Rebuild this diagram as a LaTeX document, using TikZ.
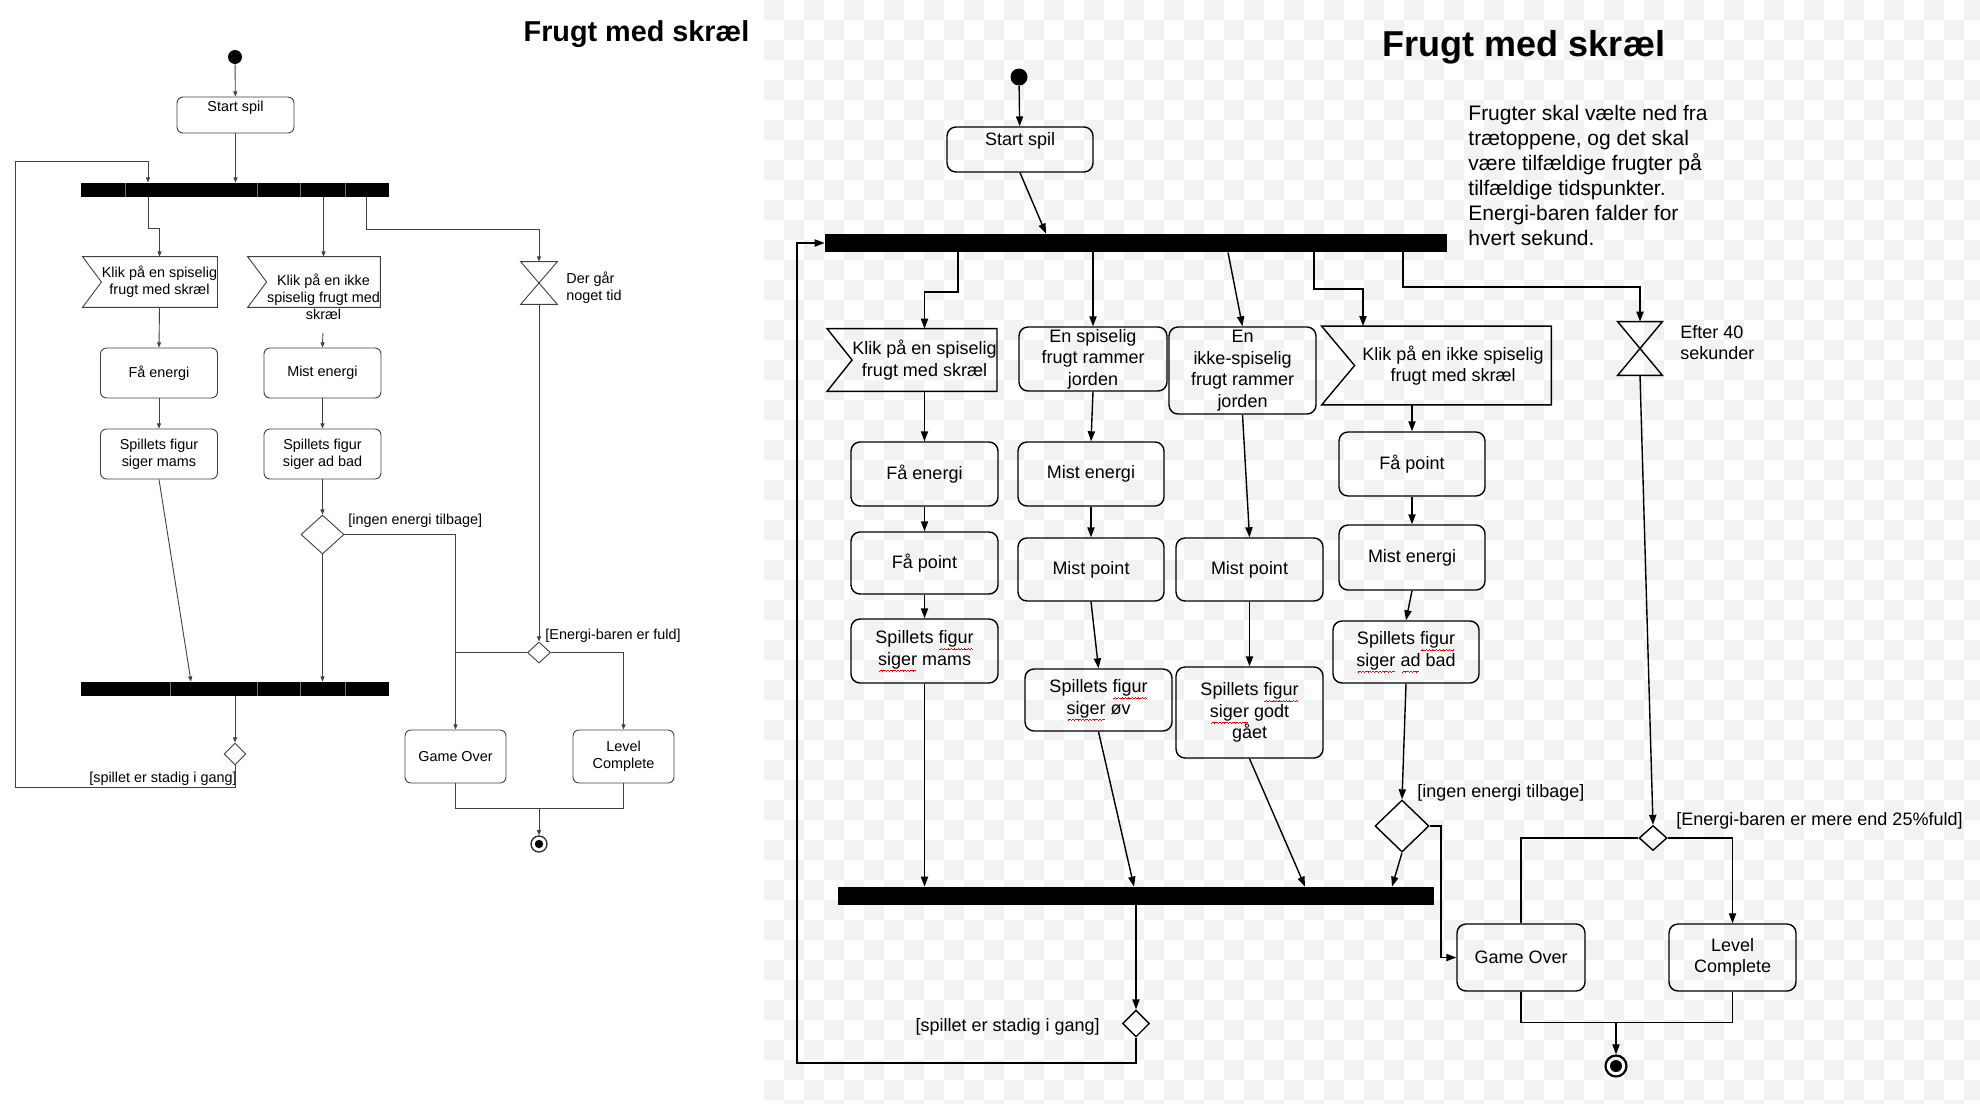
\documentclass[tikz,border=0pt]{standalone}
\usepackage{fontspec}
\setmainfont{Liberation Sans}
\usetikzlibrary{shapes.geometric,arrows.meta}
\newsavebox\splbox
\newcommand\spl[1]{\sbox\splbox{#1}\rlap{\color{red}\hbox to \wd\splbox{\cleaders\hbox{\rule[-3.1pt]{0.42pt}{0.32pt}\rule[-2.8pt]{0.42pt}{0.32pt}\rule[-2.5pt]{0.42pt}{0.32pt}\rule[-2.8pt]{0.42pt}{0.32pt}}\hfill}}\usebox\splbox}

\begin{document}
\begin{tikzpicture}[x=0.5pt,y=-0.5pt,
  ltxt/.style={font=\fontsize{7.2pt}{8.4pt}\selectfont, align=center, inner sep=0pt},
  rtxt/.style={font=\fontsize{9pt}{10.8pt}\selectfont, align=center, inner sep=0pt},
  lhead/.style={font=\bfseries\fontsize{14.4pt}{17pt}\selectfont, inner sep=0pt},
  rhead/.style={font=\bfseries\fontsize{18pt}{21pt}\selectfont, inner sep=0pt},
  rdesc/.style={font=\fontsize{10.5pt}{12.5pt}\selectfont, align=left, inner sep=0pt},
  lline/.style={draw=black!75, line width=0.45pt},
  rline/.style={draw=black, line width=0.7pt},
  larr/.style={lline, -{Triangle[length=2.6pt,width=2pt]}},
  rarr/.style={rline, -{Triangle[length=5pt,width=3.6pt]}},
  lact/.style={ltxt, lline, rounded corners=3pt, minimum width=58.5pt, minimum height=25pt},
  ract/.style={rtxt, rline, rounded corners=4.5pt, minimum width=73.5pt, minimum height=32pt},
  lsig/.style={ltxt, minimum width=57.5pt, minimum height=25pt},
  rsig/.style={rtxt, minimum height=31pt},
  lbar/.style={fill=black, inner sep=0pt, minimum width=154pt, minimum height=7pt},
  rbar/.style={fill=black, inner sep=0pt, minimum height=9pt},
  ldec/.style={diamond, lline, inner sep=0pt},
  rdec/.style={diamond, rline, inner sep=0pt},
  lhg/.style={inner sep=0pt, minimum width=18pt, minimum height=21pt},
  rhg/.style={inner sep=0pt, minimum width=22pt, minimum height=26.5pt},
  lfinal/.style={circle, draw=black!80, line width=0.7pt, minimum size=8pt, inner sep=0pt,
    path picture={\fill (path picture bounding box.center) circle (2.1pt);}},
  rfinal/.style={circle, draw, line width=1.1pt, minimum size=10.5pt, inner sep=0pt,
    path picture={\fill (path picture bounding box.center) circle (3pt);}},
  checker/.style={fill=black!5}]

\path[use as bounding box, fill=white] (0,0) rectangle (1980,1114);
\begin{scope}
\clip (764,0) rectangle (1980,1103);
\foreach \r in {0,...,55}{
  \pgfmathtruncatemacro\cs{mod(\r,2)}
  \pgfmathtruncatemacro\ct{\cs+2}
  \fill[checker] \foreach \c in {\cs,\ct,...,61} {(764+20*\c,20*\r) rectangle ++(20,20)};
}
\end{scope}

% left diagram
\node[lhead] (ltitle) at (636.5,34) {Frugt med skræl};
\node[circle, fill=black, inner sep=0pt, minimum size=7pt] (ldot) at (235,57) {};
\node[lact, minimum height=18pt] (lstart) at (235.5,115) {};
\node[ltxt, anchor=north] (lstarttxt) at ([yshift=-2pt]lstart.north) {Start spil};
\node[lbar] (lbar1) at (235,190) {};
\node[lsig] (ls1) at (159.5,282) {Klik på en spiselig\\frugt med skræl};
\node[lsig, minimum width=56.5pt] (ls2) at (323.5,282) {};
\node[ltxt] (ls2txt) at (323.5,297) {Klik på en ikke\\spiselig frugt med\\skræl};
\node[lhg] (lh) at (539,283) {};
\node[ltxt, anchor=west, align=left] (lhtxt) at (566,287.5) {Der går\\noget tid};
\node[lact] (lget) at (159,373) {Få energi};
\node[lact] (llose) at (322.5,373) {Mist energi};
\node[lact] (lmams) at (159,454) {Spillets figur\\siger mams};
\node[lact] (ladbad) at (322.5,454) {Spillets figur\\siger ad bad};
\node[ldec, minimum width=21.5pt, minimum height=19.5pt] (ldec1) at (322.5,534.5) {};
\node[ltxt, anchor=west] (lg1) at (348,521) {[ingen energi tilbage]};
\node[lbar] (lbar2) at (235,689) {};
\node[ldec, minimum width=11pt, minimum height=11pt] (ldec2) at (235,754) {};
\node[ltxt, anchor=east] (lg2) at (237,779) {[spillet er stadig i gang]};
\node[ldec, minimum width=11.5pt, minimum height=10.5pt] (ldec3) at (539,652.5) {};
\node[ltxt, anchor=west] (lg3) at (545,636) {[Energi-baren er fuld]};
\node[lact, minimum width=50.5pt, minimum height=26.5pt] (lgo) at (455.5,756.5) {Game Over};
\node[lact, minimum width=50.5pt, minimum height=26.5pt] (llc) at (623.5,756.5) {Level\\Complete};
\node[lfinal] (lend) at (539,844) {};

\foreach \sx in {125,257,300,345} \draw[black!55, line width=0.3pt] (\sx,0 |- lbar1.north) -- (\sx,0 |- lbar1.south);
\foreach \sx in {170,257,300,345} \draw[black!55, line width=0.3pt] (\sx,0 |- lbar2.north) -- (\sx,0 |- lbar2.south);
\draw[lline] ([xshift=-9.5pt]ls1.north west) -- (ls1.north east) -- (ls1.south east) -- ([xshift=-9.5pt]ls1.south west) -- (ls1.west) -- cycle;
\draw[lline] ([xshift=-9.5pt]ls2.north west) -- (ls2.north east) -- (ls2.south east) -- ([xshift=-9.5pt]ls2.south west) -- (ls2.west) -- cycle;
\draw[lline] (lh.north west) -- (lh.north east) -- (lh.south west) -- (lh.south east) -- cycle;

\draw[larr] (ldot) -- (lstart);
\draw[larr] (lstart) -- (lstart.south |- lbar1.north);
\draw[larr] (148,0 |- lbar1.south) -- (148,228) -| (ls1.north);
\draw[larr] (ls2.north |- lbar1.south) -- (ls2.north);
\draw[larr] (366,0 |- lbar1.south) -- (366,229) -| (lh.north);
\draw[larr] (ls1.south) -- (lget.north);
\draw[larr, shorten <=13pt] (ls2.south) -- (llose.north);
\draw[larr] (lget) -- (lmams);
\draw[larr] (llose) -- (ladbad);
\draw[larr] (lmams.south) -- (191,0 |- lbar2.north);
\draw[larr] (ladbad) -- (ldec1);
\draw[larr] (ldec1.south) -- (ldec1.south |- lbar2.north);
\draw[larr] (ldec1.east) -| (lgo.north);
\draw[larr] (lbar2.south -| ldec2.north) -- (ldec2.north);
\draw[larr] (ldec2.south) |- (15,787) |- (148,161) -- (148,0 |- lbar1.north);
\draw[larr] (lh.south) -- (ldec3.north);
\draw[lline] (ldec3.west) -- (ldec3.west -| lgo.north);
\draw[larr] (ldec3.east) -| (llc.north);
\draw[lline] (lgo.south) -- ++(0,25) -| (llc.south);
\draw[larr] (lend.north |- 0,808) -- (lend.north);

% right diagram
\node[rhead] (rtitle) at (1524,47) {Frugt med skræl};
\node[rdesc, anchor=west] (rnote) at (1468,175) {Frugter skal vælte ned fra\\trætoppene, og det skal\\være tilfældige frugter på\\tilfældige tidspunkter.\\Energi-baren falder for\\hvert sekund.};
\node[circle, fill=black, inner sep=0pt, minimum size=8.5pt] (rdot) at (1019,77) {};
\node[ract, minimum width=73pt, minimum height=22.5pt] (rstart) at (1020,149.5) {};
\node[rtxt, anchor=north] (rstarttxt) at ([yshift=-3pt]rstart.north) {Start spil};
\node[rbar, minimum width=311pt] (rbar1) at (1136,243) {};
\node[rsig, minimum width=71.5pt] (rs1) at (924.5,360) {Klik på en spiselig\\frugt med skræl};
\node[ract, minimum width=74pt] (rsp) at (1093,359) {En spiselig\\frugt rammer\\jorden};
\node[ract, minimum height=43.5pt] (rikke) at (1242.5,370.5) {En\\ikke-spiselig\\frugt rammer\\jorden};
\node[rsig, minimum width=98pt, minimum height=39pt] (rs2) at (1453,365.5) {Klik på en ikke spiselig\\frugt med skræl};
\node[rhg] (rh) at (1640,348.5) {};
\node[rtxt, anchor=west, align=left] (rhtxt) at (1680,342.5) {Efter 40\\sekunder};
\node[ract] (rget) at (924.5,474) {Få energi};
\node[ract, minimum height=31pt] (rfp1) at (924.5,563) {Få point};
\node[ract] (rmams) at (924.5,651) {Spillets \spl{figur}\\\spl{siger} mams};
\node[ract, minimum width=73pt] (rlose1) at (1091,474) {Mist energi};
\node[ract, minimum width=73pt, minimum height=31.5pt] (rmp1) at (1091,569.5) {Mist point};
\node[ract, minimum height=31pt] (rov) at (1098.5,700) {Spillets \spl{figur}\\\spl{siger} øv};
\node[ract, minimum height=31.5pt] (rmp2) at (1249.5,569.5) {Mist point};
\node[ract, minimum height=45.5pt] (rgodt) at (1249.5,712.5) {Spillets \spl{figur}\\\spl{siger} godt\\gået};
\node[ract, minimum width=73pt] (rfp2) at (1412,464) {Få point};
\node[ract, minimum width=73pt, minimum height=32.5pt] (rlose2) at (1412,557.5) {Mist energi};
\node[ract, minimum width=73pt, minimum height=31pt] (radbad) at (1406,652) {Spillets \spl{figur}\\\spl{siger} \spl{ad} bad};
\node[rdec, minimum width=27pt, minimum height=26pt] (rdec1) at (1402,826) {};
\node[rtxt, anchor=west] (rg1) at (1417,793) {[ingen energi tilbage]};
\node[rbar, minimum width=298pt] (rbar2) at (1136,896) {};
\node[rdec, minimum width=13.5pt, minimum height=13.5pt] (rdec2) at (1136,1023.5) {};
\node[rtxt, anchor=east] (rg2) at (1100,1027) {[spillet er stadig i gang]};
\node[rdec, minimum width=14pt, minimum height=12.5pt] (rdec3) at (1653,838) {};
\node[rtxt, anchor=west] (rg3) at (1676,821) {[Energi-baren er mere end 25\%fuld]};
\node[ract, minimum width=64pt, minimum height=33.5pt] (rgo) at (1521,957.5) {Game Over};
\node[ract, minimum width=63.5pt, minimum height=33.5pt] (rlc) at (1732.5,957.5) {Level\\Complete};
\node[rfinal] (rend) at (1616,1066) {};

\draw[rline] ([xshift=-12.5pt]rs1.north west) -- (rs1.north east) -- (rs1.south east) -- ([xshift=-12.5pt]rs1.south west) -- (rs1.west) -- cycle;
\draw[rline] ([xshift=-16.5pt]rs2.north west) -- (rs2.north east) -- (rs2.south east) -- ([xshift=-16.5pt]rs2.south west) -- (rs2.west) -- cycle;
\draw[rline] (rh.north west) -- (rh.north east) -- (rh.south west) -- (rh.south east) -- cycle;

\draw[rarr] (rdot) -- (rstart);
\draw[rarr] (rstart.south) -- (1046,0 |- rbar1.north);
\draw[rarr] (958,0 |- rbar1.south) -- (958,292) -| (rs1.north);
\draw[rarr] (rsp.north |- rbar1.south) -- (rsp.north);
\draw[rarr] (1228,0 |- rbar1.south) -- (rikke.north);
\draw[rarr] (1314,0 |- rbar1.south) -- (1314,289) -| (1363,0 |- rs2.north);
\draw[rarr] (1403,0 |- rbar1.south) -- (1403,287) -| (rh.north);
\draw[rarr] (rs1.south) -- (rget.north);
\draw[rarr] (rget) -- (rfp1);
\draw[rarr] (rfp1) -- (rmams);
\draw[rarr] (rmams.south) -- (rmams.south |- rbar2.north);
\draw[rarr] (rsp.south) -- (rlose1.north);
\draw[rarr] (rlose1) -- (rmp1);
\draw[rarr] (rmp1.south) -- (rov.north);
\draw[rarr] (rov.south) -- (1134,0 |- rbar2.north);
\draw[rarr] (rikke.south) -- (rmp2.north);
\draw[rarr] (rmp2) -- (rgodt);
\draw[rarr] (rgodt.south) -- (1305,0 |- rbar2.north);
\draw[rarr] (rfp2.north |- rs2.south) -- (rfp2.north);
\draw[rarr] (rfp2) -- (rlose2);
\draw[rarr] (rlose2.south) -- (radbad.north);
\draw[rarr] (radbad.south) -- (rdec1.north);
\draw[rarr] (rdec1.south) -- (1392,0 |- rbar2.north);
\draw[rarr] (rdec1.east) -- (1441,0 |- rdec1.east) |- (rgo.west);
\draw[rarr] (rbar2.south -| rdec2.north) -- (rdec2.north);
\draw[rarr] (rdec2.south) |- (797,1063) |- (rbar1.west);
\draw[rarr] (rh.south) -- (rdec3.north);
\draw[rline] (rdec3.west) -| (rgo.north);
\draw[rarr] (rdec3.east) -| (rlc.north);
\draw[rline] (rgo.south) -- ++(0,31) -| (rlc.south);
\draw[rarr] (rend.north |- 0,1022) -- (rend.north);
\end{tikzpicture}
\end{document}
